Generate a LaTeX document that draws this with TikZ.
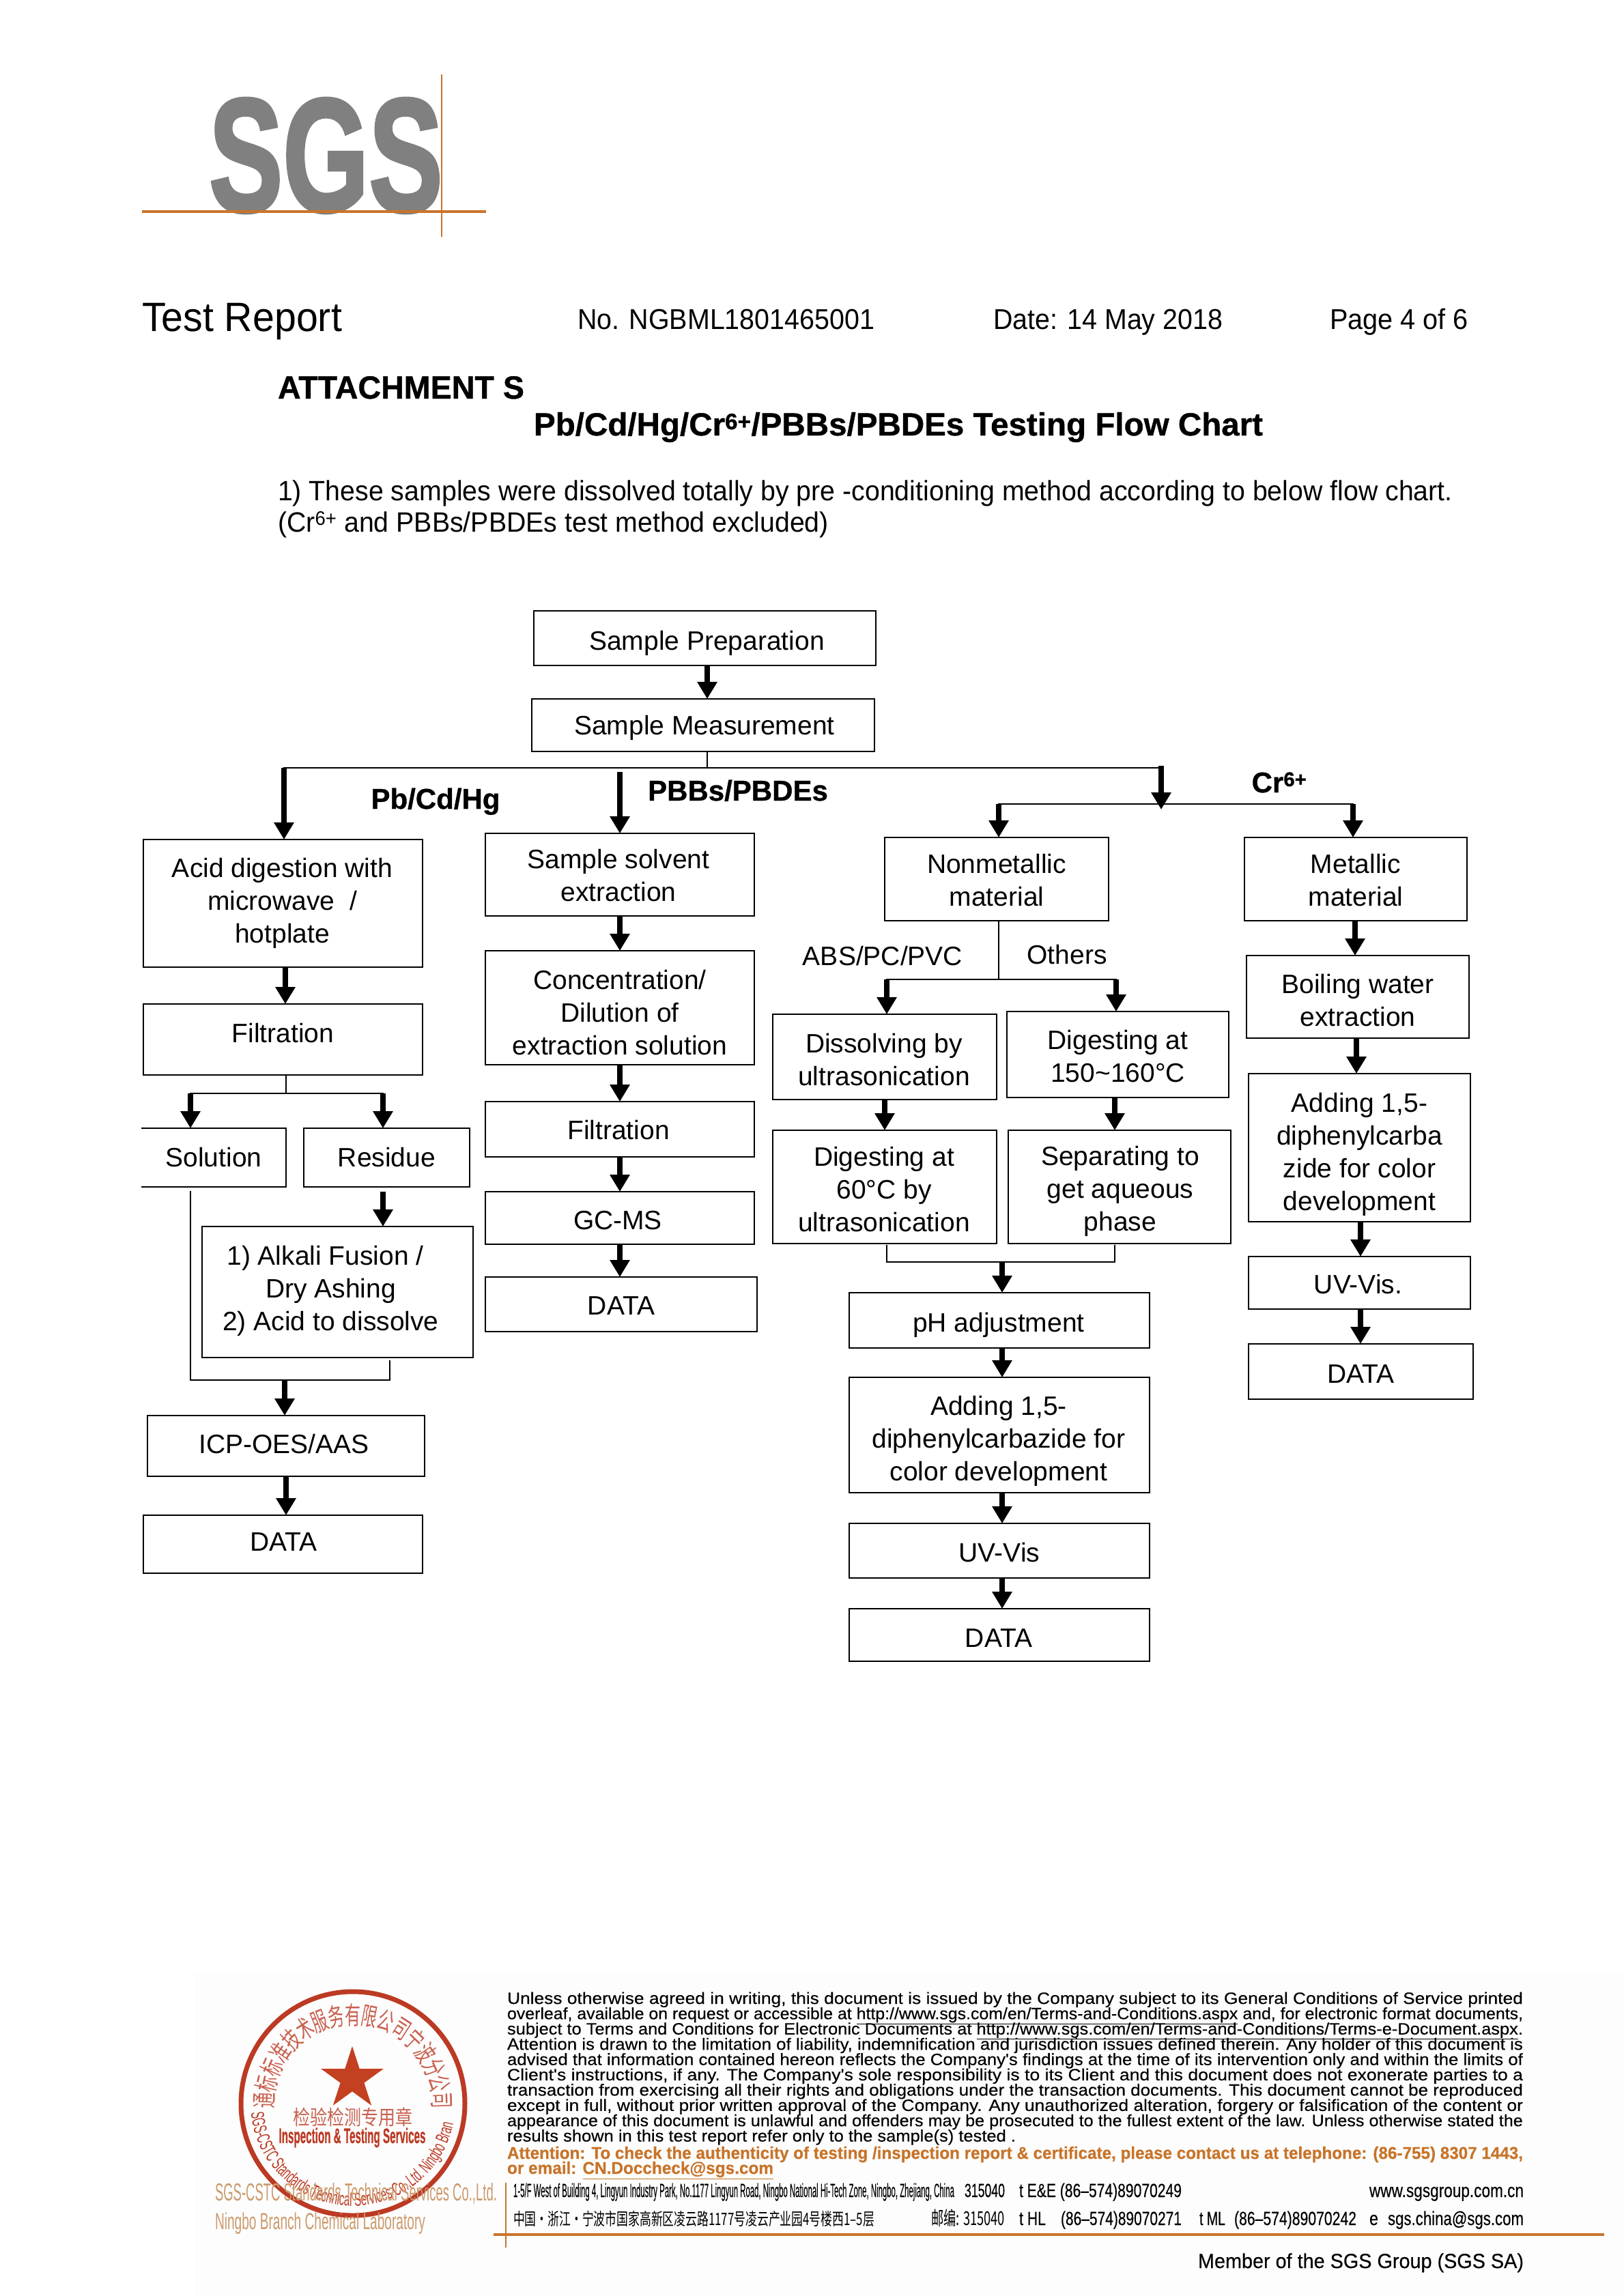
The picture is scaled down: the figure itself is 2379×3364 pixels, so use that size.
\documentclass[tikz,border=0pt]{standalone}
\usepackage{fontspec}
\usepackage{graphicx}
\usetikzlibrary{arrows.meta,calc,shapes.geometric,decorations.text}
\setmainfont{Liberation Sans}[BoldFeatures={FakeBold=0.8}]
\newfontfamily\cjk{Noto Sans CJK SC}
\newfontfamily\footfont{Liberation Sans}[FakeBold=0.3,BoldFeatures={FakeBold=0.6}]
\newfontfamily\logofont{Liberation Sans Bold}[FakeBold=2.2]
\newfontfamily\sealfont[FakeStretch=0.56]{Liberation Sans}
\definecolor{sgsgrey}{HTML}{808080}
\definecolor{sgsorange}{HTML}{C8742A}
\definecolor{sealred}{HTML}{BC3A24}
\definecolor{sealtan}{HTML}{CC9A6C}
\definecolor{footbg}{HTML}{FDFDFD}
\tikzset{
  box/.style={draw=black,line width=2.6pt,outer sep=0pt,inner sep=0pt,align=center,
    font=\fontsize{39}{48}\selectfont},
  openbox/.style={box,draw=none},
  arr/.style={line width=8pt,-{Triangle[width=28pt,length=25pt]},black},
  wire/.style={line width=2.8pt,black,line cap=rect},
  lab/.style={inner sep=0pt,outer sep=0pt,anchor=base west},
  blab/.style={inner sep=0pt,font=\bfseries\fontsize{42}{48}\selectfont},
  plainlab/.style={inner sep=0pt,font=\fontsize{39}{48}\selectfont},
}
\newcommand\bx[7][box]{\node[#1,minimum width={(#5-#3)*1pt},minimum height={(#6-#4)*1pt}] (#2) at ({(#3+#5)/2},{(#4+#6)/2}) {#7};}
\newcommand\tx[3]{\hspace*{#1pt}\raisebox{\dimexpr#2pt-4pt\relax}[\height][\depth]{\begin{tabular}{@{}c@{}}#3\end{tabular}}}
\newcommand\arrow[3]{\coordinate (col) at (#3,0); \draw[arr] (#1.south -| col) -- (#2.north -| col);}
\newcommand\tl[7][black]{\node[lab,text=#1] (#2) at (#3,#4) {\fontsize{#6}{#6}\selectfont\resizebox{#5pt}{\height}{#7}};}
\newcommand\fl[7][black]{\node[lab,text=#1] (#2) at (#3,#4) {\footfont\fontsize{#6}{#6}\selectfont\resizebox{#5pt}{\height}{#7}};}
\begin{document}
\begin{tikzpicture}[x=1pt,y=-1pt]
\useasboundingbox (0,0) rectangle (2379,3364);
\fill[white] (0,0) rectangle (2379,3364);
\fill[footbg] (285,2890) rectangle (2379,3364);

% logo
\node[anchor=south west,inner sep=0pt,text=sgsgrey] (logo) at (306,312) {\resizebox{342pt}{165pt}{\logofont SGS}};
\draw[sgsorange,line width=3.5pt] (208,310) -- (712,310);
\draw[sgsorange,line width=2pt] (647,109) -- (647,347);

% header
\tl{testreport}{208}{485}{293}{60}{Test Report}
\tl{reportno}{846}{482}{435}{42}{No. NGBML1801465001}
\tl{reportdate}{1455}{482}{336}{42}{Date: 14 May 2018}
\tl{reportpage}{1948}{482}{203}{42}{Page 4 of 6}
\tl{attach}{407}{584}{361}{47}{\bfseries ATTACHMENT S}
\tl{title}{782}{638}{1068}{47}{\bfseries Pb/Cd/Hg/Cr\textsuperscript{6+}/PBBs/PBDEs Testing Flow Chart}
\tl{para1}{407}{733}{1721}{41}{1) These samples were dissolved totally by pre -conditioning method according to below flow chart.}
\tl{para2}{407}{779}{807}{41}{(Cr\textsuperscript{6+} and PBBs/PBDEs test method excluded)}

% top
\bx{prep}{782}{895}{1283}{975}{\tx{6}{-4}{Sample Preparation}}
\bx{meas}{779}{1024}{1281}{1101}{\tx{4}{0}{Sample Measurement}}
\arrow{prep}{meas}{1036}

% left column
\bx{acid}{210}{1230}{619}{1417}{\tx{-2}{4}{Acid digestion with\\microwave \ /\\hotplate}}
\bx{filtL}{210}{1471}{619}{1575}{\tx{0}{9}{Filtration}}
\bx[openbox]{soln}{207}{1653}{419}{1739}{\tx{0}{0}{Solution}}
\draw[box,fill=none] (soln.north west) -- (soln.north east) -- (soln.south east) -- (soln.south west);
\bx{resid}{445}{1653}{688}{1739}{\tx{0}{0}{Residue}}
\bx{alkali}{296}{1797}{693}{1989}{\tx{-20}{5}{\hspace*{-16pt}1) Alkali Fusion /\\Dry Ashing\\2) Acid to dissolve}}
\bx{icp}{216}{2074}{622}{2163}{\tx{-6}{3}{ICP-OES/AAS}}
\bx{dataL}{210}{2220}{619}{2305}{\tx{2}{4}{DATA}}
% PBB column
\bx{solvent}{711}{1221}{1105}{1342}{\tx{-4}{-1}{Sample solvent\\extraction}}
\bx{conc}{711}{1393}{1105}{1560}{\tx{0}{-7}{Concentration/\\Dilution of\\extraction solution}}
\bx{filtM}{711}{1614}{1105}{1695}{\tx{-4}{-1}{Filtration}}
\bx{gcms}{711}{1746}{1105}{1823}{\tx{-6}{-3}{GC-MS}}
\bx{dataM}{711}{1871}{1109}{1951}{\tx{0}{-2}{DATA}}
% nonmetal column
\bx{nonmet}{1296}{1227}{1624}{1349}{\tx{0}{-2}{Nonmetallic\\material}}
\bx{dissolve}{1132}{1486}{1460}{1611}{\tx{-2}{-4}{Dissolving by\\ultrasonication}}
\bx{dig150}{1475}{1482}{1800}{1608}{\tx{0}{-3}{Digesting at\\150\textasciitilde 160°C}}
\bx{dig60}{1132}{1656}{1460}{1822}{\tx{-2}{-4}{Digesting at\\60°C by\\ultrasonication}}
\bx{separate}{1477}{1656}{1803}{1822}{\tx{2}{-3}{Separating to\\get aqueous\\phase}}
\bx{ph}{1244}{1894}{1684}{1975}{\tx{-2}{-3}{pH adjustment}}
\bx{adding}{1244}{2018}{1684}{2187}{\tx{-2}{-5}{Adding 1,5-\\diphenylcarbazide for\\color development}}
\bx{uvM}{1244}{2232}{1684}{2312}{\tx{0}{-3}{UV-Vis}}
\bx{dataN}{1244}{2357}{1684}{2434}{\tx{-2}{-4}{DATA}}
% metal column
\bx{metal}{1823}{1227}{2149}{1349}{\tx{0}{-2}{Metallic\\material}}
\bx{boil}{1826}{1400}{2152}{1521}{\tx{0}{-5}{Boiling water\\extraction}}
\bx{addR}{1829}{1573}{2154}{1790}{\tx{0}{-6}{Adding 1,5-\\diphenylcarba\\zide for color\\development}}
\bx{uvR}{1829}{1841}{2154}{1918}{\tx{-4}{-2}{UV-Vis.}}
\bx{dataR}{1829}{1969}{2158}{2050}{\tx{0}{-3}{DATA}}

% trunk
\coordinate (trunkL) at (416,1125);
\coordinate (trunkM) at (908,1131);
\coordinate (trunkR) at (1701,1125);
\coordinate (crT) at (1701,1186);
\coordinate (crL) at (1463,1178);
\coordinate (crR) at (1982,1178);
\coordinate (tap) at (1036,1125);
\draw[wire] (meas.south -| tap) -- (tap);
\draw[wire] (trunkL) -- (trunkR);
\draw[arr] (trunkL) -- (acid.north -| trunkL);
\draw[arr] (trunkM) -- (solvent.north -| trunkM);
\draw[arr] ($(trunkR)+(0,-3)$) -- (crT);
\draw[wire] (crL) -- (crR);
\draw[arr] (crL) -- (nonmet.north -| crL);
\draw[arr] (crR) -- (metal.north -| crR);

% left flows
\arrow{acid}{filtL}{418}
\coordinate (lsplit) at (419,1602);
\coordinate (lsolX) at (279,1602);
\coordinate (lresX) at (561,1602);
\draw[wire] (filtL.south -| lsplit) -- (lsplit);
\draw[wire] (lsolX) -- (lresX);
\draw[arr] (lsolX) -- (soln.north -| lsolX);
\draw[arr] (lresX) -- (resid.north -| lresX);
\coordinate (rstart) at (561,1746);
\draw[arr] (rstart) -- (alkali.north -| rstart);
\coordinate (mergeL) at (279,2022);
\coordinate (mergeR) at (571,2022);
\coordinate (mergeC) at (417,2022);
\draw[wire] ($(soln.south -| mergeL)+(0,7)$) -- (mergeL) -- (mergeR) -- ($(alkali.south -| mergeR)+(0,5)$);
\draw[arr] (mergeC) -- (icp.north -| mergeC);
\arrow{icp}{dataL}{419}

% PBB flows
\arrow{solvent}{conc}{908}
\arrow{conc}{filtM}{908}
\arrow{filtM}{gcms}{908}
\arrow{gcms}{dataM}{908}

% nonmetal flows
\coordinate (nsplit) at (1463,1435);
\coordinate (nsL) at (1299,1435);
\coordinate (nsR) at (1635,1435);
\draw[wire] (nonmet.south -| nsplit) -- (nsplit);
\draw[wire] (nsL) -- (nsR);
\draw[arr] (nsL) -- (dissolve.north -| nsL);
\draw[arr] (nsR) -- (dig150.north -| nsR);
\arrow{dissolve}{dig60}{1296}
\arrow{dig150}{separate}{1633}
\coordinate (brL) at (1299,1849);
\coordinate (brR) at (1633,1849);
\coordinate (brC) at (1468,1849);
\draw[wire] ($(dig60.south -| brL)+(0,3)$) -- (brL) -- (brR) -- ($(separate.south -| brR)+(0,3)$);
\draw[arr] (brC) -- (ph.north -| brC);
\arrow{ph}{adding}{1468}
\arrow{adding}{uvM}{1468}
\arrow{uvM}{dataN}{1468}

% metal flows
\arrow{metal}{boil}{1985}
\arrow{boil}{addR}{1987}
\arrow{addR}{uvR}{1993}
\arrow{uvR}{dataR}{1993}

% labels
\node[blab,anchor=base] (lblPb) at (638,1185) {Pb/Cd/Hg};
\node[blab,anchor=base] (lblPBB) at (1081,1173) {PBBs/PBDEs};
\node[blab,anchor=base] (lblCr) at (1874,1161) {Cr\textsuperscript{6+}};
\node[plainlab,anchor=base] (lblABS) at (1293,1414) {ABS/PC/PVC};
\node[plainlab,anchor=base] (lblOth) at (1563,1412) {Others};

% seal
\begin{scope}[shift={(517,3082)},y=1pt]
  \draw[sealred,line width=7pt] (0,0) circle[radius=164];
  \foreach \c [count=\i] in {通,标,标,准,技,术,服,务,有,限,公,司,宁,波,分,公,司}{
    \pgfmathsetmacro\ang{178-(\i-1)*11}
    \node[rotate=\ang-90,inner sep=0pt,text=sealred!80] (sealchar\i) at (\ang:130) {\scalebox{0.66}[1.05]{\cjk\fontsize{35}{35}\selectfont\c}};
  }
  \node[star,star points=5,star point ratio=2.618,fill=sealred!90!orange,minimum size=96pt,inner sep=0pt] (sealstar) at (-1,36) {};
  \path[decorate,decoration={text along path,text align=center,
    text={|\sealfont\fontsize{27}{27}\selectfont\color{sealred}|SGS-CSTC Standards Technical Services Co.,Ltd. Ningbo Branch}}]
    (191:150) arc[start angle=191,end angle=349,radius=150];
\end{scope}
\node[inner sep=0pt,text=sealred!80] (sealcn) at (517,3102) {\scalebox{1}[1.2]{\cjk\fontsize{25}{25}\selectfont 检验检测专用章}};
\node[inner sep=0pt,text=sealred] (sealen) at (516,3132) {\resizebox{215pt}{\height}{\bfseries\fontsize{31}{31}\selectfont Inspection \& Testing Services}};
\tl[sealtan]{labname}{315}{3224}{413}{36}{SGS-CSTC Standards Technical Services Co.,Ltd.}
\tl[sealtan]{labbranch}{315}{3266}{308}{34}{Ningbo Branch Chemical Laboratory}

% footer text
\fl{f1}{743}{2936}{1488}{24}{Unless otherwise agreed in writing, this document is issued by the Company subject to its General Conditions of Service printed}
\fl{f2}{743}{2958.4}{1488}{24}{overleaf, available on request or accessible at \underline{http://www.sgs.com/en/Terms-and-Conditions.aspx} and, for electronic format documents,}
\fl{f3}{743}{2980.8}{1488}{24}{subject to Terms and Conditions for Electronic Documents at \underline{http://www.sgs.com/en/Terms-and-Conditions/Terms-e-Document.aspx}.}
\fl{f4}{743}{3003.2}{1488}{24}{Attention is drawn to the limitation of liability, indemnification and jurisdiction issues defined therein. Any holder of this document is}
\fl{f5}{743}{3025.6}{1488}{24}{advised that information contained hereon reflects the Company's findings at the time of its intervention only and within the limits of}
\fl{f6}{743}{3048}{1488}{24}{Client's instructions, if any. The Company's sole responsibility is to its Client and this document does not exonerate parties to a}
\fl{f7}{743}{3070.4}{1488}{24}{transaction from exercising all their rights and obligations under the transaction documents. This document cannot be reproduced}
\fl{f8}{743}{3092.8}{1488}{24}{except in full, without prior written approval of the Company. Any unauthorized alteration, forgery or falsification of the content or}
\fl{f9}{743}{3115.2}{1488}{24}{appearance of this document is unlawful and offenders may be prosecuted to the fullest extent of the law. Unless otherwise stated the}
\fl{f10}{743}{3137.6}{745}{24}{results shown in this test report refer only to the sample(s) tested .}
\fl[sgsorange]{att1}{743}{3163}{1488}{25}{\bfseries Attention: To check the authenticity of testing /inspection report \& certificate, please contact us at telephone: (86-755) 8307 1443,}
\fl[sgsorange]{att2}{743}{3185}{390}{25}{\bfseries or email: \underline{CN.Doccheck@sgs.com}}
\fl{addr1}{752}{3219}{646}{28}{1-5/F West of Building 4, Lingyun Industry Park, No.1177 Lingyun Road, Ningbo National Hi-Tech Zone, Ningbo, Zhejiang, China}
\fl{addr1a}{1413}{3219}{59}{28}{315040}
\fl{addr1b}{1493}{3219}{238}{28}{t E\&E (86–574)89070249}
\fl{addr1c}{2006}{3219}{226}{28}{www.sgsgroup.com.cn}
\tl{addr2}{752}{3260}{529}{25}{\cjk 中国・浙江・宁波市国家高新区凌云路1177号凌云产业园4号楼西1–5层}
\tl{addr2a}{1364}{3260}{108}{28}{\cjk 邮编: 315040}
\fl{addr2b}{1493}{3260}{39}{28}{t HL}
\fl{addr2c}{1554}{3260}{177}{28}{(86–574)89070271}
\fl{addr2d}{1757}{3260}{38}{28}{t ML}
\fl{addr2e}{1808}{3260}{179}{28}{(86–574)89070242}
\fl{addr2f}{2006}{3260}{13}{28}{e}
\fl{addr2g}{2033}{3260}{199}{28}{sgs.china@sgs.com}
\draw[sgsorange,line width=4pt] (723,3274) -- (2350,3274);
\draw[sgsorange,line width=2pt] (741,3198) -- (741,3293);
\fl{member}{1755}{3323}{477}{30}{Member of the SGS Group (SGS SA)}
\end{tikzpicture}
\end{document}
